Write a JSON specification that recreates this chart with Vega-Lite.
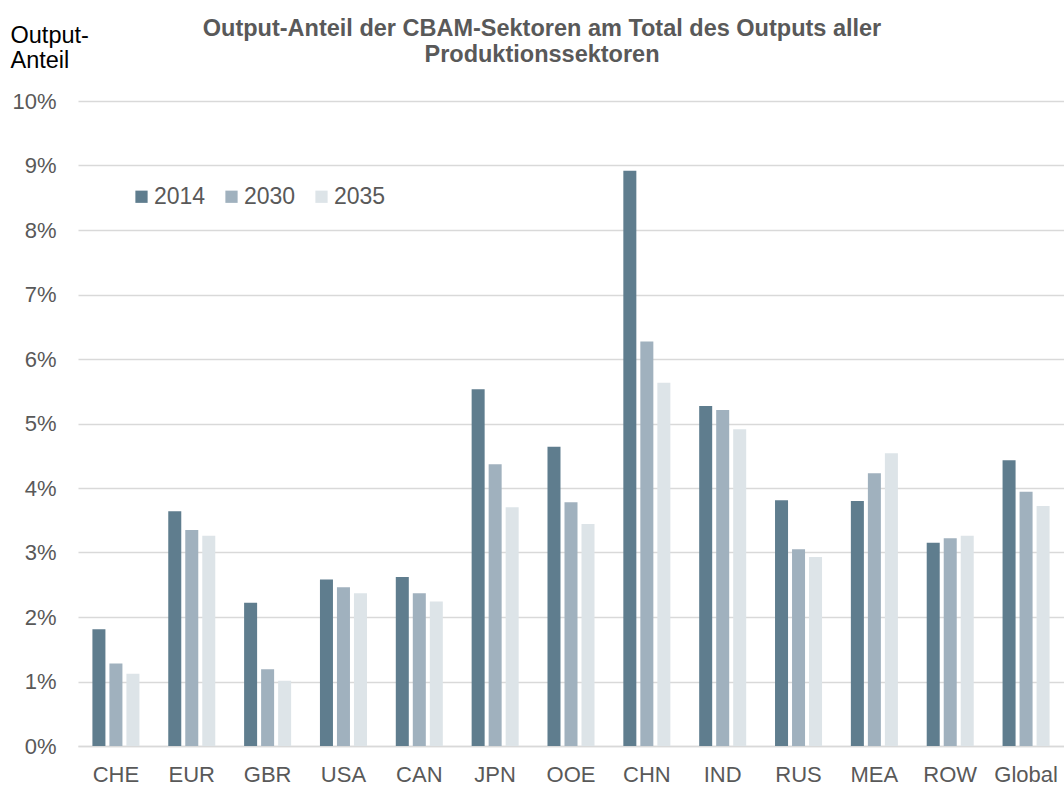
{
  "$schema": "https://vega.github.io/schema/vega-lite/v6.json",
  "width": 986,
  "height": 645,
  "autosize": {"type": "none"},
  "padding": {"left": 78, "top": 101, "right": 0, "bottom": 39},
  "background": "white",
  "title": {
    "text": ["Output-Anteil der CBAM-Sektoren am Total des Outputs aller", "Produktionssektoren"],
    "fontSize": 23.5,
    "fontWeight": "bold",
    "color": "#595959",
    "font": "Liberation Sans",
    "anchor": "middle",
    "dx": -29,
    "offset": -43,
    "lineHeight": 26
  },
  "data": {
    "values": [
      {"region": "CHE", "year": "2014", "value": 1.81},
      {"region": "CHE", "year": "2030", "value": 1.28},
      {"region": "CHE", "year": "2035", "value": 1.12},
      {"region": "EUR", "year": "2014", "value": 3.64},
      {"region": "EUR", "year": "2030", "value": 3.35},
      {"region": "EUR", "year": "2035", "value": 3.26},
      {"region": "GBR", "year": "2014", "value": 2.22},
      {"region": "GBR", "year": "2030", "value": 1.19},
      {"region": "GBR", "year": "2035", "value": 1.01},
      {"region": "USA", "year": "2014", "value": 2.58},
      {"region": "USA", "year": "2030", "value": 2.46},
      {"region": "USA", "year": "2035", "value": 2.37},
      {"region": "CAN", "year": "2014", "value": 2.62},
      {"region": "CAN", "year": "2030", "value": 2.37},
      {"region": "CAN", "year": "2035", "value": 2.24},
      {"region": "JPN", "year": "2014", "value": 5.53},
      {"region": "JPN", "year": "2030", "value": 4.37},
      {"region": "JPN", "year": "2035", "value": 3.70},
      {"region": "OOE", "year": "2014", "value": 4.64},
      {"region": "OOE", "year": "2030", "value": 3.78},
      {"region": "OOE", "year": "2035", "value": 3.44},
      {"region": "CHN", "year": "2014", "value": 8.92},
      {"region": "CHN", "year": "2030", "value": 6.27},
      {"region": "CHN", "year": "2035", "value": 5.63},
      {"region": "IND", "year": "2014", "value": 5.27},
      {"region": "IND", "year": "2030", "value": 5.21},
      {"region": "IND", "year": "2035", "value": 4.91},
      {"region": "RUS", "year": "2014", "value": 3.81},
      {"region": "RUS", "year": "2030", "value": 3.05},
      {"region": "RUS", "year": "2035", "value": 2.93},
      {"region": "MEA", "year": "2014", "value": 3.80},
      {"region": "MEA", "year": "2030", "value": 4.23},
      {"region": "MEA", "year": "2035", "value": 4.54},
      {"region": "ROW", "year": "2014", "value": 3.15},
      {"region": "ROW", "year": "2030", "value": 3.22},
      {"region": "ROW", "year": "2035", "value": 3.26},
      {"region": "Global", "year": "2014", "value": 4.43},
      {"region": "Global", "year": "2030", "value": 3.94},
      {"region": "Global", "year": "2035", "value": 3.72}
    ]
  },
  "mark": {"type": "bar"},
  "encoding": {
    "x": {
      "field": "region",
      "type": "nominal",
      "sort": ["CHE", "EUR", "GBR", "USA", "CAN", "JPN", "OOE", "CHN", "IND", "RUS", "MEA", "ROW", "Global"],
      "scale": {"paddingInner": 0.38, "paddingOuter": 0.19},
      "axis": {
        "title": null,
        "labelAngle": 0,
        "labelFontSize": 22,
        "labelColor": "#595959",
        "labelFont": "Liberation Sans",
        "ticks": false,
        "domain": true,
        "domainColor": "#d9d9d9",
        "domainWidth": 1.5,
        "labelPadding": 18,
        "grid": false
      }
    },
    "xOffset": {
      "field": "year",
      "type": "nominal",
      "scale": {"paddingInner": 0.235}
    },
    "y": {
      "field": "value",
      "type": "quantitative",
      "scale": {"domain": [0, 10]},
      "axis": {
        "values": [0, 1, 2, 3, 4, 5, 6, 7, 8, 9, 10],
        "labelExpr": "datum.value + '%'",
        "labelFontSize": 22,
        "labelColor": "#595959",
        "labelFont": "Liberation Sans",
        "ticks": false,
        "domain": false,
        "grid": true,
        "gridColor": "#d9d9d9",
        "gridWidth": 1.5,
        "labelPadding": 22,
        "title": ["Output-", "Anteil"],
        "titleAngle": 0,
        "titleAlign": "left",
        "titleBaseline": "top",
        "titleX": -68,
        "titleY": -78,
        "titleFontSize": 23.5,
        "titleFontWeight": "normal",
        "titleColor": "#000000",
        "titleFont": "Liberation Sans",
        "titleLineHeight": 25
      }
    },
    "color": {
      "field": "year",
      "type": "nominal",
      "scale": {"domain": ["2014", "2030", "2035"], "range": ["#5F7D8E", "#A0B1BE", "#DDE4E8"]},
      "legend": {
        "title": null,
        "orient": "none",
        "legendX": 52,
        "legendY": 84,
        "direction": "horizontal",
        "symbolType": "square",
        "symbolSize": 150,
        "symbolStrokeWidth": 0,
        "labelFontSize": 23,
        "labelColor": "#595959",
        "labelFont": "Liberation Sans",
        "labelOffset": 1,
        "columnPadding": 14
      }
    }
  },
  "config": {"view": {"stroke": null}, "font": "Liberation Sans"}
}
